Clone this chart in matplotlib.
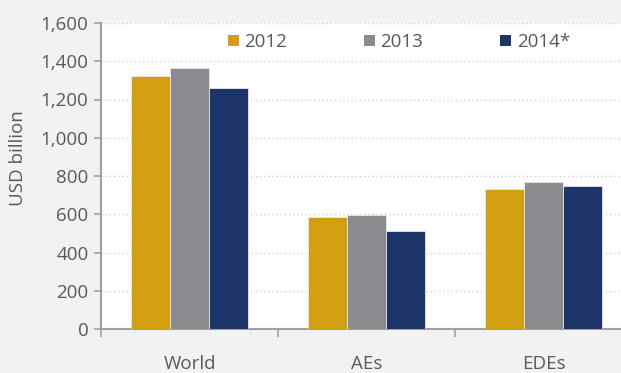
import numpy as np
import matplotlib
matplotlib.use("Agg")
import matplotlib.pyplot as plt
from matplotlib.patches import Patch

categories = ["World", "AEs", "EDEs"]
years = ["2012", "2013", "2014*"]
values_2012 = [1323, 587, 732]
values_2013 = [1365, 594, 767]
values_2014 = [1260, 511, 748]
colors = ["#D29F0E", "#8A8B8F", "#1D3468"]
yticks = [0, 200, 400, 600, 800, 1000, 1200, 1400, 1600]

plt.rcParams['font.family'] = ['Open Sans', 'DejaVu Sans']
text_col = "#595959"
axis_col = "#a0a0a0"
fs = 13.5

fig = plt.figure(figsize=(6.21, 3.73), dpi=100, facecolor="#f2f2f2")
ax = fig.add_axes([101 / 621, 1 - 329 / 373, 520 / 621, 306 / 373])
ax.set_facecolor("white")

x = np.arange(len(categories))
w = 0.222
series = [values_2012, values_2013, values_2014]
for i, vals in enumerate(series):
    ax.bar(x + (i - 1) * w, vals, width=w, color=colors[i],
           edgecolor="#e8e8e8", linewidth=0.6, zorder=3)

ax.set_ylim(0, 1600)
ax.set_xlim(-0.5, 2.438)
ax.set_yticks(yticks)
ax.set_yticklabels([f"{v:,}" for v in yticks])
ax.yaxis.grid(True, linestyle=(0, (1, 2)), color="#d0d0d0", linewidth=1.0, zorder=0)

# category boundaries as major ticks, labels on minor ticks
ax.set_xticks([-0.5, 0.5, 1.5])
ax.set_xticklabels([])
ax.set_xticks(x, minor=True)
ax.set_xticklabels(categories, minor=True)
ax.tick_params(axis="x", which="major", length=6, color=axis_col, width=1.2)
ax.tick_params(axis="x", which="minor", length=0, pad=18.5, labelsize=fs, labelcolor=text_col)
ax.tick_params(axis="y", length=5, color=axis_col, width=1.2, labelsize=fs,
               labelcolor=text_col, pad=4)

for s in ["top", "right"]:
    ax.spines[s].set_visible(False)
for s in ["left", "bottom"]:
    ax.spines[s].set_color(axis_col)
    ax.spines[s].set_linewidth(1.5)

ax.set_ylabel("USD billion", fontsize=fs, color=text_col)
ax.yaxis.set_label_coords(-0.142, 0.559)

handles = [Patch(facecolor=c, edgecolor="none") for c in colors]
ax.legend(handles, years, ncol=3, loc="center", bbox_to_anchor=(0.573, 0.938),
          frameon=False, fontsize=fs, labelcolor=text_col,
          handlelength=0.58, handleheight=0.58, handletextpad=0.3,
          columnspacing=4.1, borderaxespad=0)

fig.savefig("out.png", dpi=100, facecolor=fig.get_facecolor())
